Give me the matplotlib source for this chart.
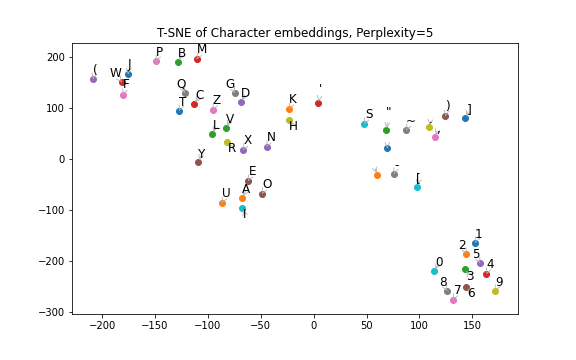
# t-sne scatter of character embeddings with annotated labels

import matplotlib
matplotlib.use('Agg')
import matplotlib.pyplot as plt

chars = [' ', ' ', '"', "'", '(', ')', ',', '-', '.',
         '0', '1', '2', '3', '4', '5', '6', '7', '8', '9',
         '[', ']',
         'A', 'B', 'C', 'D', 'E', 'F', 'G', 'H', 'I', 'J', 'K', 'L', 'M',
         'N', 'O', 'P', 'Q', 'R', 'S', 'T', 'U', 'V', 'W', 'X', 'Y', 'Z',
         '~']

x_tsne = [69.6, 60.2, 68.7, 4.4, -208.5, 124.5, 115.0, 76.2, 109.4,
          113.8, 152.9, 144.4, 143.4, 163.3, 157.3, 144.4, 131.8, 126.1, 171.8,
          98.0, 143.4,
          -67.5, -128.1, -112.9, -68.5, -61.9, -180.1, -74.2, -23.6, -67.5,
          -175.4, -23.1, -95.9, -110.7, -44.5, -48.6, -148.9, -121.5, -81.7,
          47.9, -127.1, -86.7, -82.7, -181.3, -66.6, -109.2, -95.0,
          87.6]

y_tsne = [21.2, -31.1, 56.4, 109.3, 156.3, 83.8, 43.3, -29.2, 62.3,
          -219.2, -164.2, -185.9, -215.8, -225.6, -204.1, -251.1, -275.4,
          -258.3, -258.3,
          -55.2, 79.9,
          -76.8, 189.6, 107.3, 111.8, -42.9, 125.5, 129.5, 76.0, -96.4,
          166.1, 97.5, 49.2, 195.5, 23.7, -68.4, 191.5, 129.5, 32.9,
          68.2, 94.2, -86.6, 60.3, 150.4, 17.8, -6.3, 95.6,
          56.4]

# label offsets (points), found by eye
label_dx = [0, -3, 2.4, 2.4, 2, 2, 2.4, 2.7, 1,
            5, 3.4, -4.3, 4.7, 4, -4, 4.7, 4.7, -4.3, 4,
            1.4, 3.7,
            4, 4, 5.4, 4.4, 4.7, 3.4, -5.3, 5, 2.7, 1, 4, 3.7, 5.6,
            4.6, 4.7, 3.7, -4.3, 5, 4.4, 3.4, 4.7, 4, -6.3, 5, 3.4, 3.7,
            4.4]
label_dy = [12, 8, 18, 13.3, 9, 9.6, 7.7, 8.7, 7.6,
            8.3, 8.6, 8.7, -7.4, 10, 8.6, -6, 8.7, 8.7, 8.7,
            8.3, 8.3,
            8.3, 8.3, 8.3, 8.3, 9.3, 10, 8.7, -6.4, -6.7, 9.3, 9.6, 8.3, 9.3,
            9.3, 9.7, 8.6, 8.7, -6.4, 10, 8.7, 10, 8.3, 8.6, 9.3, 8, 9.6,
            8.6]

fig = plt.figure(figsize=(8, 5), dpi=72)
ax = fig.add_subplot(111)
fig.subplots_adjust(left=0.125, right=0.9, top=0.88, bottom=0.128)

for i in range(len(chars)):
    ax.scatter(x_tsne[i], y_tsne[i])
    ax.annotate(chars[i], xy=(x_tsne[i], y_tsne[i]),
                xytext=(label_dx[i], label_dy[i]), textcoords='offset points',
                ha='center', va='center', fontsize=12,
                arrowprops=dict(arrowstyle='->', color='#b0b0b0', lw=0.8))

ax.set_xlim(-228.4, 193.5)
ax.set_ylim(-303.4, 226.8)
ax.set_title('T-SNE of Character embeddings, Perplexity=5')
plt.savefig('out.png', dpi=72)
